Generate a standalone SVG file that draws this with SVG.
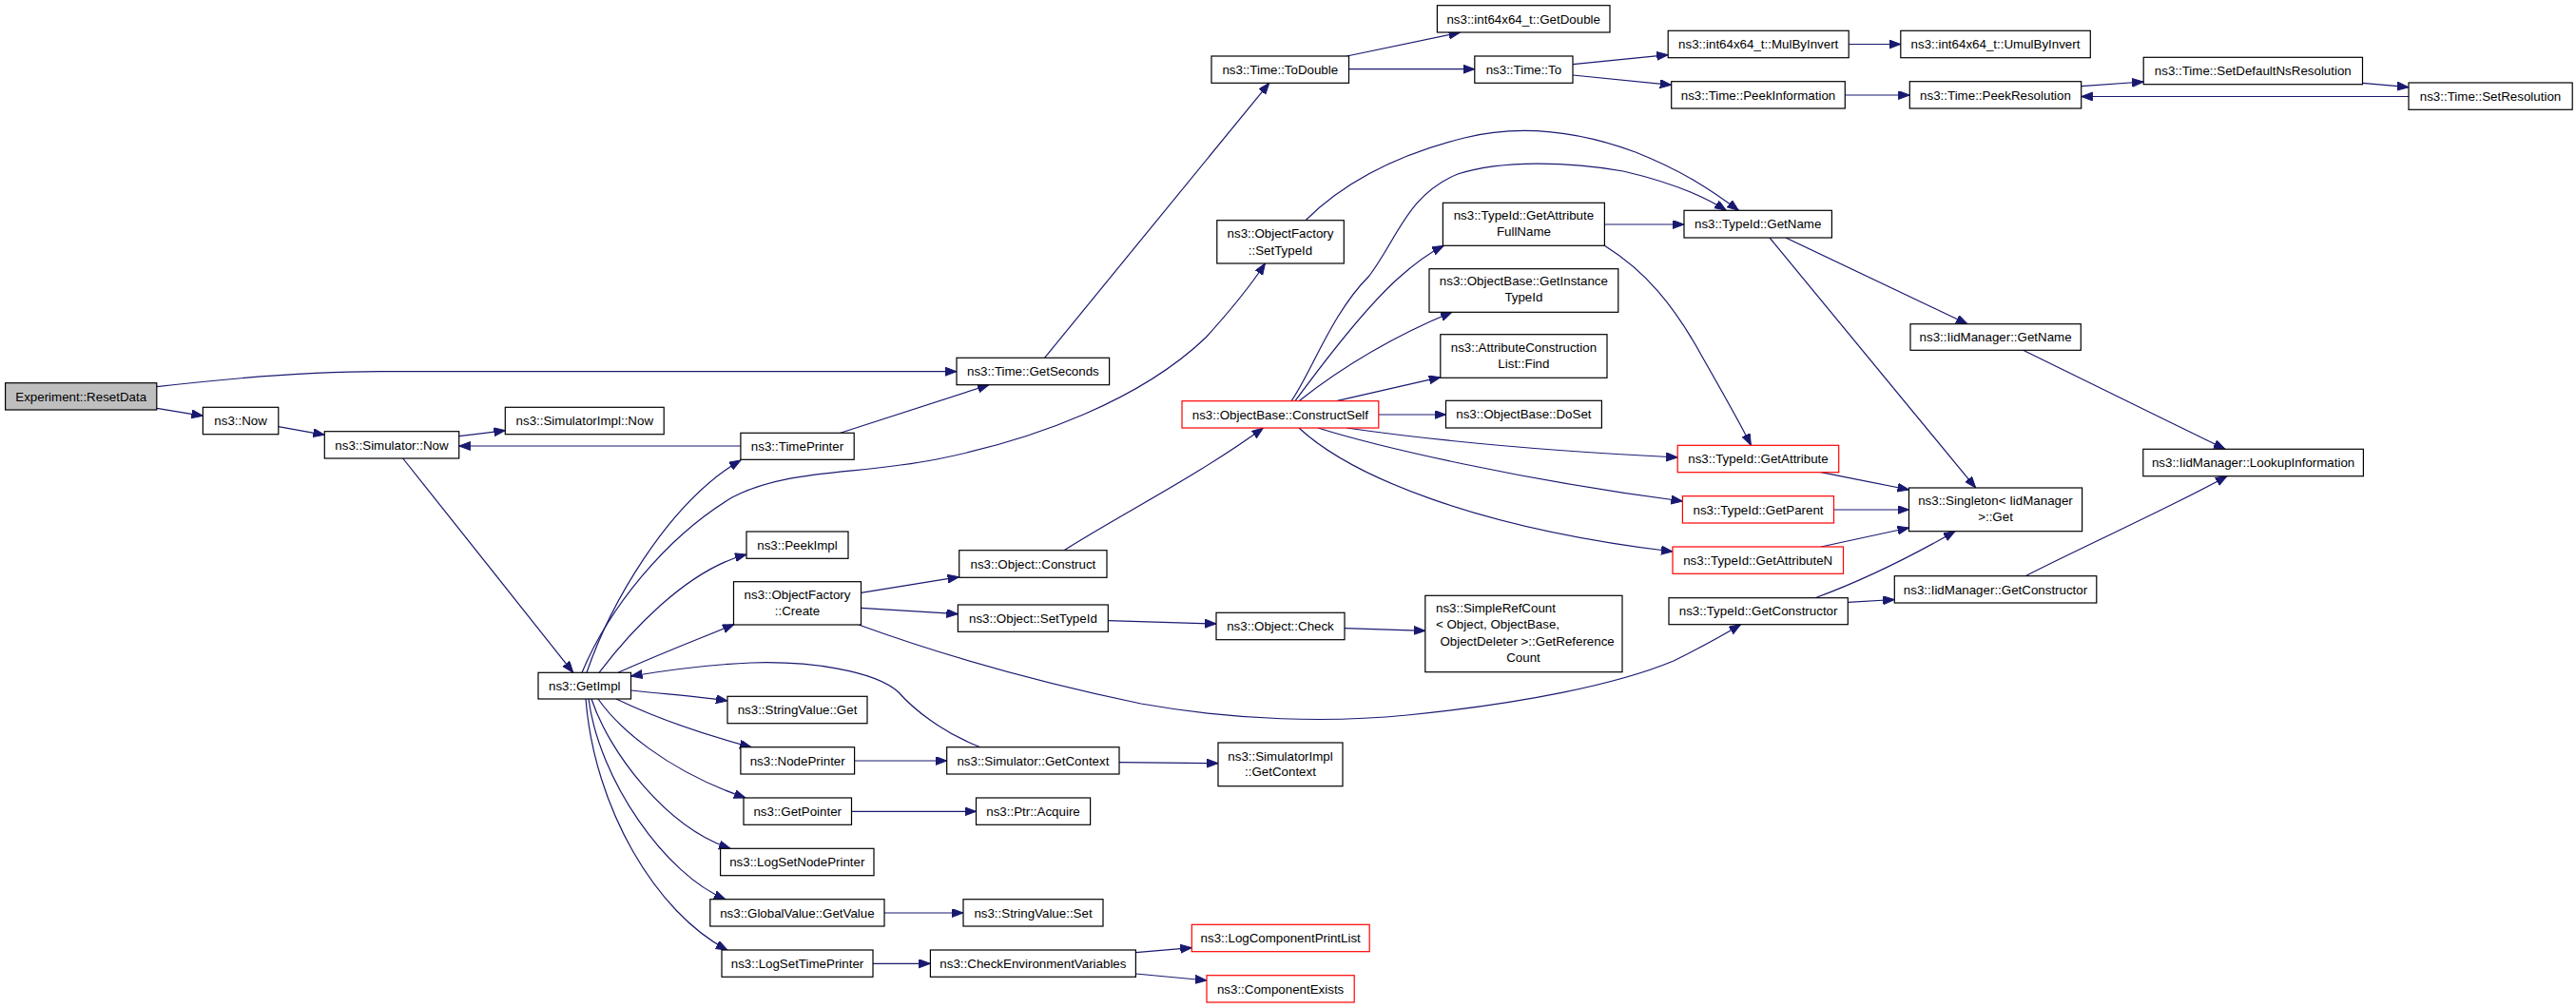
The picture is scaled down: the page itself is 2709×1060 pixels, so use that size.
<svg xmlns="http://www.w3.org/2000/svg" width="2709" height="1060" viewBox="0 0 2709 1060">
<style>
.n rect{fill:#fff;stroke:#000;stroke-width:1.2}
.n.r rect{stroke:#ff0000}
.n.root rect{fill:#bfbfbf}
text{font-family:"Liberation Sans",Arial,sans-serif;font-size:13.33px;fill:#000;text-anchor:middle}
.e path{fill:none;stroke:#191970;stroke-width:1.2;marker-end:url(#a)}
</style>
<defs>
<marker id="a" markerUnits="userSpaceOnUse" markerWidth="13" markerHeight="10" refX="12" refY="4.5" orient="auto">
<path d="M0,0 L12,4.5 L0,9 z" fill="#191970" stroke="#191970" stroke-width="1"/>
</marker>
</defs>
<rect width="2709" height="1060" fill="#fff"/>
<g id="edges" class="e">
<path d="M165,406.7 C240,398 330,390.7 400,390.7 L1006,390.7"/>
<path d="M165,429.3 L213.4,437.3"/>
<path d="M292.8,448.7 L341.3,457.3"/>
<path d="M482.7,458.7 L531.3,452.7"/>
<path d="M778.9,469 L482.7,469"/>
<path d="M423.7,482 L602.8,707.3"/>
<path d="M617,707.3 C640,640 700,530 779,484"/>
<path d="M883.8,455.3 L1040,404.7"/>
<path d="M1098.5,376.3 L1334.8,87.3"/>
<path d="M1416.4,59 L1535.6,34"/>
<path d="M1418.5,72.7 L1550.8,72.7"/>
<path d="M1654,67.7 L1754.2,57.7"/>
<path d="M1654,79 L1757.7,89.3"/>
<path d="M1944.2,46.5 L1998.8,46.5"/>
<path d="M1940.3,100 L2008.3,100"/>
<path d="M2188.7,90.7 L2254.2,86"/>
<path d="M2484.5,87.3 L2533,91.7"/>
<path d="M2533,101.5 L2188.7,101.5"/>
<path d="M612,707.3 C640,640 700,565 770,523 C830,492 900,500 985,483 C1090,462 1200,420 1268,355 C1298,322 1318,296 1330.5,277"/>
<path d="M1373,231.7 C1420,185 1480,160 1540,145 C1600,130 1660,138 1720,160 C1770,180 1800,200 1828.4,221.3"/>
<path d="M630,707.3 C660,668 720,600 785,583"/>
<path d="M650,707.3 C700,685 740,670 772,656.5"/>
<path d="M905.5,623.3 L1008.7,606.7"/>
<path d="M905.5,639.3 L1007.4,645.7"/>
<path d="M903,657 C980,685 1080,715 1200,740 C1300,758 1400,760 1480,752 C1600,740 1700,720 1760,695 C1790,680 1812,668 1830.5,656.7"/>
<path d="M1119,578.7 C1180,540 1260,500 1328.4,450"/>
<path d="M1165.3,652.7 L1279,656"/>
<path d="M1414,660.7 L1498.8,663.3"/>
<path d="M1362,421.7 C1400,370 1440,320 1470,293 C1490,275 1505,265 1518.3,258.3"/>
<path d="M1358,421.7 C1380,390 1400,330 1440,290 C1470,250 1480,205 1533,183 C1580,168 1650,170 1707,180 C1750,190 1790,205 1815.3,221.3"/>
<path d="M1366,421.7 C1400,395 1450,360 1527,328.3"/>
<path d="M1405.5,421.7 L1514.8,396.7"/>
<path d="M1449.8,436 L1520.5,436"/>
<path d="M1416,450 C1500,462 1620,474 1764.2,481"/>
<path d="M1386,450 C1450,470 1600,505 1769.4,527"/>
<path d="M1366,450 C1420,500 1550,555 1759,580"/>
<path d="M1687.4,236 L1771,236"/>
<path d="M1687.4,258.3 C1730,285 1760,320 1790,375 C1810,410 1830,445 1841.4,468.3"/>
<path d="M1878,250 L2069,340.7"/>
<path d="M1861,250 L2077.7,513"/>
<path d="M2127.6,368.3 L2340,472.3"/>
<path d="M1915,496.7 L2007.5,515"/>
<path d="M1928.5,536 L2007.5,536"/>
<path d="M1915,575 L2007.5,555"/>
<path d="M1909,628.7 C1960,610 2010,585 2056,558.7"/>
<path d="M1943.3,633.3 L1992.3,630.5"/>
<path d="M2130,605.7 C2200,570 2280,535 2342,500.7"/>
<path d="M663.5,726 C700,730 740,733 765,737"/>
<path d="M648,735 C700,760 750,775 790,785.7"/>
<path d="M898.6,800 L995.7,800"/>
<path d="M1031,785.7 C990,770 960,745 945,728 C920,705 850,695 790,697 C740,699 700,705 663.5,711"/>
<path d="M1177,801.7 L1281,802.7"/>
<path d="M629,735 C650,765 700,810 784,839"/>
<path d="M895.5,853.3 L1026.5,853.3"/>
<path d="M622,735 C640,790 700,870 768,892.3"/>
<path d="M619,735 C630,820 700,920 763,945.7"/>
<path d="M930,960 L1013,960"/>
<path d="M616,735 C625,850 690,960 765,999"/>
<path d="M918,1013.3 L978.4,1013.3"/>
<path d="M1194.4,1001.7 L1253.3,996.7"/>
<path d="M1194.4,1024 L1269,1031"/>
</g>
<g id="n_resetdata" class="n root"><rect x="5.6" y="402.7" width="159.2" height="28.3"/><text x="85.2" y="421.5">Experiment::ResetData</text></g>
<g id="n_now" class="n"><rect x="213.4" y="428.3" width="79.4" height="28.4"/><text x="253.1" y="447.2">ns3::Now</text></g>
<g id="n_simnow" class="n"><rect x="341.3" y="453.7" width="141.4" height="28.3"/><text x="412" y="472.5">ns3::Simulator::Now</text></g>
<g id="n_simimplnow" class="n"><rect x="531.3" y="428.3" width="166.9" height="28.4"/><text x="614.8" y="447.2">ns3::SimulatorImpl::Now</text></g>
<g id="n_getimpl" class="n"><rect x="566" y="707.3" width="97.5" height="27.7"/><text x="614.8" y="725.8">ns3::GetImpl</text></g>
<g id="n_timeprinter" class="n"><rect x="778.9" y="455.3" width="119.3" height="28"/><text x="838.5" y="474">ns3::TimePrinter</text></g>
<g id="n_getseconds" class="n"><rect x="1006" y="376.3" width="160.6" height="28.4"/><text x="1086.4" y="395.2">ns3::Time::GetSeconds</text></g>
<g id="n_todouble" class="n"><rect x="1274" y="59" width="144.5" height="28.3"/><text x="1346.3" y="77.9">ns3::Time::ToDouble</text></g>
<g id="n_getdouble" class="n"><rect x="1511.4" y="5.7" width="181.6" height="28.3"/><text x="1602.2" y="24.5">ns3::int64x64_t::GetDouble</text></g>
<g id="n_to" class="n"><rect x="1550.8" y="59" width="103.2" height="28.3"/><text x="1602.4" y="77.9">ns3::Time::To</text></g>
<g id="n_mulbyinvert" class="n"><rect x="1754.2" y="32.3" width="190" height="28.4"/><text x="1849.2" y="51.2">ns3::int64x64_t::MulByInvert</text></g>
<g id="n_peekinformation" class="n"><rect x="1757.7" y="85.7" width="182.6" height="28.3"/><text x="1849" y="104.6">ns3::Time::PeekInformation</text></g>
<g id="n_umulbyinvert" class="n"><rect x="1998.8" y="32.3" width="199.5" height="28.4"/><text x="2098.5" y="51.2">ns3::int64x64_t::UmulByInvert</text></g>
<g id="n_peekresolution" class="n"><rect x="2008.3" y="85.7" width="180.4" height="28.3"/><text x="2098.5" y="104.6">ns3::Time::PeekResolution</text></g>
<g id="n_setdefaultns" class="n"><rect x="2254.2" y="60.3" width="230.3" height="28.4"/><text x="2369.3" y="79.2">ns3::Time::SetDefaultNsResolution</text></g>
<g id="n_setresolution" class="n"><rect x="2533" y="87" width="172.2" height="28.3"/><text x="2619" y="105.9">ns3::Time::SetResolution</text></g>
<g id="n_of_settypeid" class="n"><rect x="1279.8" y="231.7" width="133.5" height="45.3"/><text x="1346.5" y="250.2">ns3::ObjectFactory</text><text x="1346.5" y="267.8">::SetTypeId</text></g>
<g id="n_constructself" class="n r"><rect x="1243" y="421.7" width="206.8" height="28.3"/><text x="1346.4" y="440.5">ns3::ObjectBase::ConstructSelf</text></g>
<g id="n_peekimpl" class="n"><rect x="785" y="559" width="107" height="28.3"/><text x="838.5" y="577.8">ns3::PeekImpl</text></g>
<g id="n_of_create" class="n"><rect x="771.5" y="611.7" width="134" height="45.3"/><text x="838.5" y="629.7">ns3::ObjectFactory</text><text x="838.5" y="647.4">::Create</text></g>
<g id="n_construct" class="n"><rect x="1008.7" y="578.7" width="155.3" height="28.6"/><text x="1086.4" y="597.6">ns3::Object::Construct</text></g>
<g id="n_obj_settypeid" class="n"><rect x="1007.4" y="636" width="157.9" height="28.3"/><text x="1086.4" y="654.8">ns3::Object::SetTypeId</text></g>
<g id="n_check" class="n"><rect x="1279" y="644.3" width="135" height="28.4"/><text x="1346.5" y="663.2">ns3::Object::Check</text></g>
<g id="n_simplerefcount" class="n"><rect x="1498.8" y="626.3" width="207.2" height="80.4"/><text x="1510" y="644" style="text-anchor:start">ns3::SimpleRefCount</text><text x="1510" y="661.4" style="text-anchor:start">&lt; Object, ObjectBase,</text><text x="1514.4" y="679" style="text-anchor:start">ObjectDeleter &gt;::GetReference</text><text x="1602" y="696.4">Count</text></g>
<g id="n_getattrfullname" class="n"><rect x="1517.4" y="213.3" width="170" height="45"/><text x="1602.4" y="231.4">ns3::TypeId::GetAttribute</text><text x="1602.4" y="248">FullName</text></g>
<g id="n_typeid_getname" class="n"><rect x="1771" y="221.3" width="155.4" height="28.7"/><text x="1848.7" y="240.3">ns3::TypeId::GetName</text></g>
<g id="n_getinstancetypeid" class="n"><rect x="1503" y="282.7" width="198.8" height="45.6"/><text x="1602.4" y="300.4">ns3::ObjectBase::GetInstance</text><text x="1602.4" y="317">TypeId</text></g>
<g id="n_acl_find" class="n"><rect x="1514.8" y="351.7" width="175.2" height="45.6"/><text x="1602.4" y="369.7">ns3::AttributeConstruction</text><text x="1602.4" y="387">List::Find</text></g>
<g id="n_doset" class="n"><rect x="1520.5" y="421.3" width="163.9" height="28.7"/><text x="1602.4" y="440.3">ns3::ObjectBase::DoSet</text></g>
<g id="n_getattribute" class="n r"><rect x="1764.2" y="468.3" width="169.5" height="28.4"/><text x="1849" y="487.2">ns3::TypeId::GetAttribute</text></g>
<g id="n_getparent" class="n r"><rect x="1769.4" y="521.7" width="159.1" height="28.3"/><text x="1849" y="540.5">ns3::TypeId::GetParent</text></g>
<g id="n_getattributen" class="n r"><rect x="1759" y="575" width="179.5" height="28.3"/><text x="1848.7" y="593.8">ns3::TypeId::GetAttributeN</text></g>
<g id="n_typeid_getconstructor" class="n"><rect x="1755" y="628.7" width="188.3" height="28"/><text x="1849.1" y="647.4">ns3::TypeId::GetConstructor</text></g>
<g id="n_iid_getname" class="n"><rect x="2009" y="340.7" width="179.3" height="27.6"/><text x="2098.6" y="359.2">ns3::IidManager::GetName</text></g>
<g id="n_singleton_get" class="n"><rect x="2007.5" y="513" width="182.1" height="45.7"/><text x="2098.5" y="531.4">ns3::Singleton&lt; IidManager</text><text x="2098.5" y="548">&gt;::Get</text></g>
<g id="n_iid_getconstructor" class="n"><rect x="1992.3" y="605.7" width="212.5" height="28.3"/><text x="2098.5" y="624.5">ns3::IidManager::GetConstructor</text></g>
<g id="n_lookupinformation" class="n"><rect x="2253.8" y="472.3" width="231.6" height="28.4"/><text x="2369.6" y="491.2">ns3::IidManager::LookupInformation</text></g>
<g id="n_stringvalue_get" class="n"><rect x="765" y="732.3" width="147" height="28.4"/><text x="838.5" y="751.2">ns3::StringValue::Get</text></g>
<g id="n_nodeprinter" class="n"><rect x="778.9" y="785.7" width="119.7" height="28.3"/><text x="838.7" y="804.5">ns3::NodePrinter</text></g>
<g id="n_sim_getcontext" class="n"><rect x="995.7" y="785.7" width="181.3" height="28.3"/><text x="1086.4" y="804.5">ns3::Simulator::GetContext</text></g>
<g id="n_simimpl_getcontext" class="n"><rect x="1281" y="781" width="131" height="45.7"/><text x="1346.5" y="799.7">ns3::SimulatorImpl</text><text x="1346.5" y="816.4">::GetContext</text></g>
<g id="n_getpointer" class="n"><rect x="782" y="839" width="113.5" height="28.3"/><text x="838.7" y="857.8">ns3::GetPointer</text></g>
<g id="n_ptr_acquire" class="n"><rect x="1026.5" y="839" width="120.1" height="28.3"/><text x="1086.5" y="857.8">ns3::Ptr::Acquire</text></g>
<g id="n_logsetnodeprinter" class="n"><rect x="757.6" y="892.3" width="161.4" height="28.4"/><text x="838.3" y="911.2">ns3::LogSetNodePrinter</text></g>
<g id="n_gv_getvalue" class="n"><rect x="746.8" y="945.7" width="183.2" height="28.3"/><text x="838.4" y="964.5">ns3::GlobalValue::GetValue</text></g>
<g id="n_stringvalue_set" class="n"><rect x="1013" y="945.7" width="147" height="28.3"/><text x="1086.5" y="964.5">ns3::StringValue::Set</text></g>
<g id="n_logsettimeprinter" class="n"><rect x="759" y="999" width="159" height="28.3"/><text x="838.5" y="1017.8">ns3::LogSetTimePrinter</text></g>
<g id="n_checkenv" class="n"><rect x="978.4" y="999" width="216" height="28.3"/><text x="1086.4" y="1017.8">ns3::CheckEnvironmentVariables</text></g>
<g id="n_logcompprintlist" class="n r"><rect x="1253.3" y="972.3" width="186.9" height="28.4"/><text x="1346.7" y="991.2">ns3::LogComponentPrintList</text></g>
<g id="n_componentexists" class="n r"><rect x="1269" y="1025.7" width="155.2" height="28.3"/><text x="1346.6" y="1044.5">ns3::ComponentExists</text></g>
</svg>
